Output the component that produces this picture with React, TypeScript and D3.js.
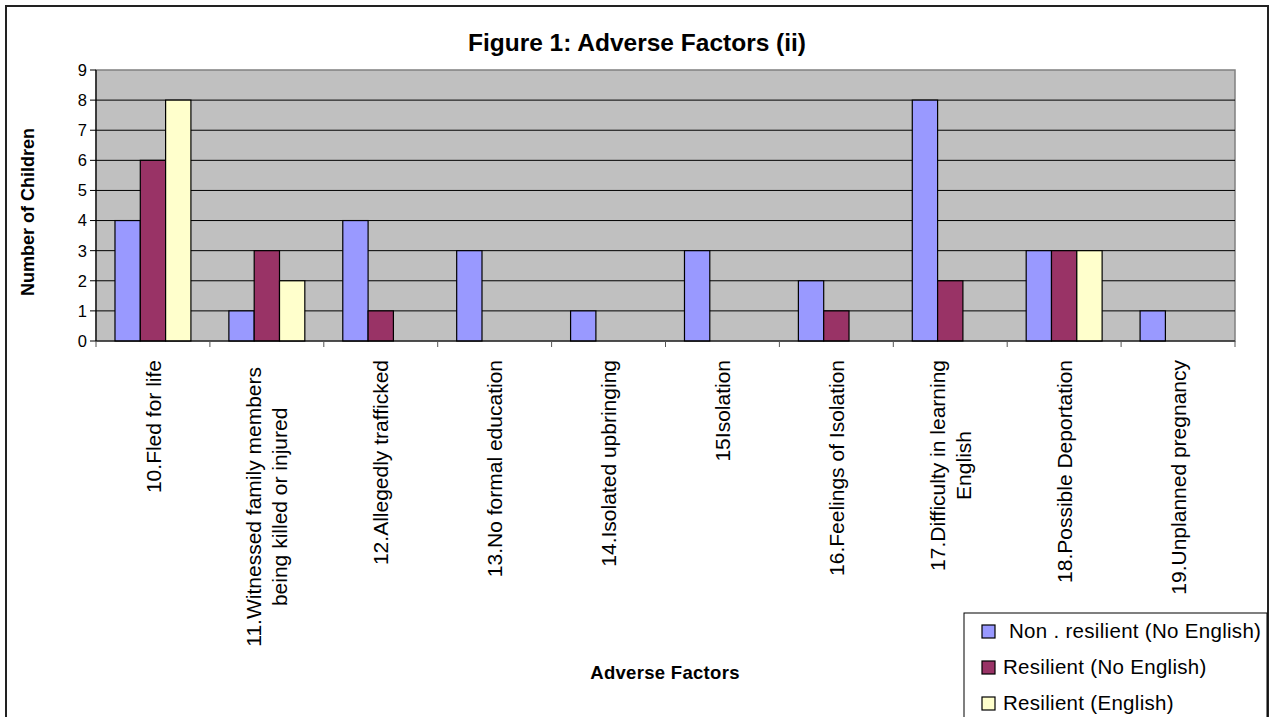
import React from "react";
import * as d3 from "d3";

const categories: string[][] = [
  ["10.Fled for life"],
  ["11.Witnessed family members", "being killed or injured"],
  ["12.Allegedly trafficked"],
  ["13.No formal education"],
  ["14.Isolated upbringing"],
  ["15Isolation"],
  ["16.Feelings of Isolation"],
  ["17.Difficulty in learning", "English"],
  ["18.Possible Deportation"],
  ["19.Unplanned pregnancy"],
];
const seriesNames = [" Non . resilient (No English)", "Resilient (No English)", "Resilient (English)"];
const nonResilientNoEnglish = [4, 1, 4, 3, 1, 3, 2, 8, 3, 1];
const resilientNoEnglish = [6, 3, 1, 0, 0, 0, 1, 2, 3, 0];
const resilientEnglish = [8, 2, 0, 0, 0, 0, 0, 0, 3, 0];
const seriesValues = [nonResilientNoEnglish, resilientNoEnglish, resilientEnglish];
const colors = ["#9999ff", "#993366", "#ffffcc"];
const yTicks = [0, 1, 2, 3, 4, 5, 6, 7, 8, 9];

const FONT = "'Liberation Sans', Arial, Helvetica, sans-serif";

let ctx: CanvasRenderingContext2D | null = null;
function measure(text: string, size: number): number {
  if (!ctx) ctx = document.createElement("canvas").getContext("2d");
  if (!ctx) return text.length * size * 0.5;
  ctx.font = `${size}px ${FONT}`;
  return ctx.measureText(text).width;
}

export default function App() {
  const W = 1273, H = 717;
  const left = 96, right = 1235, top = 70, bottom = 341;
  const idx = categories.map((_, i) => i);
  const x0 = d3.scaleBand<number>().domain(idx).range([left, right]).paddingInner(1 / 3).paddingOuter(1 / 6);
  const x1 = d3.scaleBand<number>().domain([0, 1, 2]).range([0, x0.bandwidth()]).padding(0);
  const y = d3.scaleLinear().domain([0, 9]).range([bottom, top]);
  const step = x0.step();
  const boundaries = d3.range(categories.length + 1).map((i) => left + i * step);
  const labelSize = 21;
  const lineH = 26;

  return (
    <svg width={W} height={H} style={{ position: "absolute", left: 0, top: 0, background: "#fff" }} fontFamily={FONT}>
      <rect x={6} y={6} width={1262} height={730} fill="#fff" stroke="#222" strokeWidth={2} />
      <text x={637} y={51} textAnchor="middle" fontSize={24.5} fontWeight="bold">Figure 1: Adverse Factors (ii)</text>
      {/* plot area */}
      <rect x={left} y={top} width={right - left} height={bottom - top} fill="#c0c0c0" stroke="#808080" strokeWidth={1.5} />
      {yTicks.filter((t) => t > 0 && t < 9).map((t) => (
        <line key={t} x1={left} x2={right} y1={y(t)} y2={y(t)} stroke="#000" strokeWidth={1} />
      ))}
      {/* bars */}
      {seriesValues.map((vals, s) =>
        vals.map((v, i) =>
          v > 0 ? (
            <rect key={`${s}-${i}`} x={(x0(i) as number) + (x1(s) as number)} y={y(v)} width={x1.bandwidth()} height={y(0) - y(v)}
              fill={colors[s]} stroke="#000" strokeWidth={1.2} />
          ) : null
        )
      )}
      {/* axes */}
      <line x1={left} x2={left} y1={top} y2={bottom} stroke="#000" strokeWidth={1.2} />
      <line x1={left} x2={right} y1={bottom} y2={bottom} stroke="#000" strokeWidth={1.2} />
      {yTicks.map((t) => (
        <g key={t}>
          <line x1={left - 6} x2={left} y1={y(t)} y2={y(t)} stroke="#000" />
          <text x={left - 9} y={y(t)} dy="0.36em" textAnchor="end" fontSize={16.5}>{t}</text>
        </g>
      ))}
      {boundaries.map((b, i) => (
        <line key={i} x1={b} x2={b} y1={bottom} y2={bottom + 6} stroke="#555" />
      ))}
      {categories.map((lines, i) => {
        const cx = (x0(i) as number) + x0.bandwidth() / 2;
        const maxLen = Math.max(...lines.map((l) => measure(l, labelSize)));
        const n = lines.length;
        return (
          <text key={i} transform={`translate(${cx},${n > 1 && maxLen > 240 ? 367 : 360}) rotate(-90)`} fontSize={labelSize} textAnchor="middle">
            {lines.map((l, k) => (
              <tspan key={k} x={-maxLen / 2} y={(k - (n - 1) / 2) * lineH} dy="0.36em">{l}</tspan>
            ))}
          </text>
        );
      })}
      <text transform={`translate(34,212) rotate(-90)`} textAnchor="middle" fontSize={18} fontWeight="bold">Number of Children</text>
      <text x={665} y={679} textAnchor="middle" fontSize={18.5} fontWeight="bold" letterSpacing={0.3}>Adverse Factors</text>
      {/* legend */}
      <rect x={964} y={613} width={303} height={120} fill="#fff" stroke="#000" strokeWidth={1} />
      {seriesNames.map((name, s) => (
        <g key={s}>
          <rect x={982} y={625 + s * 36} width={13} height={13} fill={colors[s]} stroke="#000" strokeWidth={1.2} />
          <text x={1003} y={638 + s * 36} fontSize={20.5} letterSpacing={0.3} style={{ whiteSpace: "pre" }}>{name}</text>
        </g>
      ))}
    </svg>
  );
}
